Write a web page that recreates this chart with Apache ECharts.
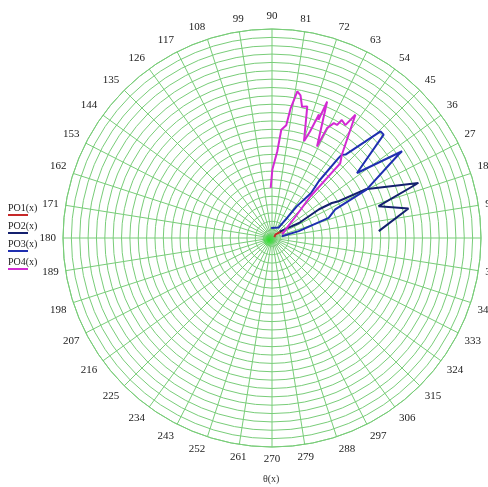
<!DOCTYPE html>
<html>
<head>
<meta charset="utf-8">
<script src="https://cdn.jsdelivr.net/npm/echarts@6/dist/echarts.min.js"></script>
<style>
  html, body { margin: 0; padding: 0; background: #fff; }
  #chart { width: 488px; height: 487px; }
</style>
</head>
<body>
<div id="chart"></div>
<script>
// Polar traces: angle in degrees, radius in grid-ring units
const seriesNames = ['PO1(x)', 'PO2(x)', 'PO3(x)', 'PO4(x)'];
const seriesColors = ['#c62828', '#14206e', '#1f2fb0', '#d22ad2'];

const po1Theta = [20, 45, 34];
const po1R     = [0.3, 0.6, 1.5];

const po2Theta = [40, 29, 31.4, 30.3, 28.9, 27.5, 20.6, 16.6, 12.2, 3.7];
const po2R     = [1.2, 3.7, 6.6, 8.3, 9.1, 12.6, 18.7, 13.3, 16.7, 12.8];

const po3Theta = [95, 57.5, 53, 52, 49, 50.5, 50.2, 50, 48.6, 44.5, 42.8, 37.4, 33.7, 33.4, 27.1, 24.3, 19.6, 14.5, 10];
const po3R     = [1.2, 1.5, 3.0, 4.8, 7.1, 8.8, 12.5, 13.0, 13.3, 18.2, 18.2, 12.8, 18.7, 18.1, 12.7, 8.3, 7.2, 3.3, 1.2];

const po4Theta = [91.5, 89.7, 86.5, 85.1, 82.8, 81.8, 80.2, 78.7, 77.1, 75.0, 71.7, 70.4, 69.2, 68.5, 68.0,
                  63.8, 63.4, 61.7, 60.1, 59.4, 57.0, 55.9, 50.0, 47.6, 47.3, 42.9, 35.5, 19.8];
const po4R     = [6.0, 8.2, 10.4, 13.0, 13.6, 15.7, 17.8, 17.4, 16.1, 16.3, 12.2, 13.5, 15.8, 15.2, 17.6,
                  12.2, 14.7, 15.6, 15.6, 16.4, 16.1, 17.8, 13.0, 12.1, 6.8, 4.0, 2.3, 1.3];

const ringMax = 25;      // outer ring
const angleStep = 9;     // degrees between spokes / labels

const pairs = (rs, ts) => rs.map((r, i) => [r, ts[i]]);
const traces = [pairs(po1R, po1Theta), pairs(po2R, po2Theta), pairs(po3R, po3Theta), pairs(po4R, po4Theta)];

const CX = 272, CY = 238, R = 209;
const gridGreen = '#79cd79';
const serif = '"Liberation Serif", "DejaVu Serif", serif';

const legendRich = { t: { fontFamily: serif, fontSize: 10, color: '#222', lineHeight: 11, padding: 0 } };
seriesNames.forEach((n, i) => {
  legendRich['k' + i] = { width: 20, height: 2, backgroundColor: seriesColors[i], lineHeight: 3 };
});

const chart = echarts.init(document.getElementById('chart'), null, { renderer: 'canvas' });
chart.setOption({
  animation: false,
  backgroundColor: '#fff',
  polar: { center: [CX, CY], radius: R },
  angleAxis: {
    type: 'value',
    min: 0,
    max: 360,
    interval: angleStep,
    startAngle: 0,
    clockwise: false,
    axisLine: { show: true, lineStyle: { color: gridGreen, width: 1 } },
    axisTick: { show: false },
    axisLabel: {
      margin: 7,
      align: 'center',
      verticalAlign: 'middle',
      color: '#222',
      fontFamily: serif,
      fontSize: 11,
      formatter: v => (v >= 360 ? '' : String(v))
    },
    splitLine: { show: true, lineStyle: { color: gridGreen, width: 1 } }
  },
  radiusAxis: {
    type: 'value',
    min: 0,
    max: ringMax,
    interval: 1,
    axisLine: { show: false },
    axisTick: { show: false },
    axisLabel: { show: false },
    splitLine: { show: true, lineStyle: { color: gridGreen, width: 1 } }
  },
  legend: {
    orient: 'vertical',
    left: 3,
    top: 203,
    itemGap: 0,
    itemWidth: 0,
    itemHeight: 0,
    icon: 'rect',
    selectedMode: false,
    padding: 0,
    data: seriesNames,
    formatter: name => '{t|' + name + '}\n{k' + seriesNames.indexOf(name) + '|}',
    textStyle: { rich: legendRich, padding: 0 }
  },
  graphic: [
    {
      // bright green core where the spokes converge
      type: 'circle',
      shape: { cx: CX - 3, cy: CY + 2, r: 7 },
      style: {
        fill: new echarts.graphic.RadialGradient(0.5, 0.5, 0.5, [
          { offset: 0, color: 'rgba(40,225,40,0.95)' },
          { offset: 0.6, color: 'rgba(60,220,60,0.6)' },
          { offset: 1, color: 'rgba(80,210,80,0)' }
        ])
      },
      z: 2
    },
    {
      type: 'text',
      left: 263,
      top: 474,
      style: { text: 'θ(x)', font: '10px ' + serif, fill: '#333' }
    }
  ],
  series: seriesNames.map((n, i) => ({
    name: n,
    type: 'line',
    coordinateSystem: 'polar',
    data: traces[i],
    showSymbol: false,
    symbol: 'none',
    color: seriesColors[i],
    lineStyle: { color: seriesColors[i], width: 2 },
    z: 3 + i
  }))
});
</script>
</body>
</html>
